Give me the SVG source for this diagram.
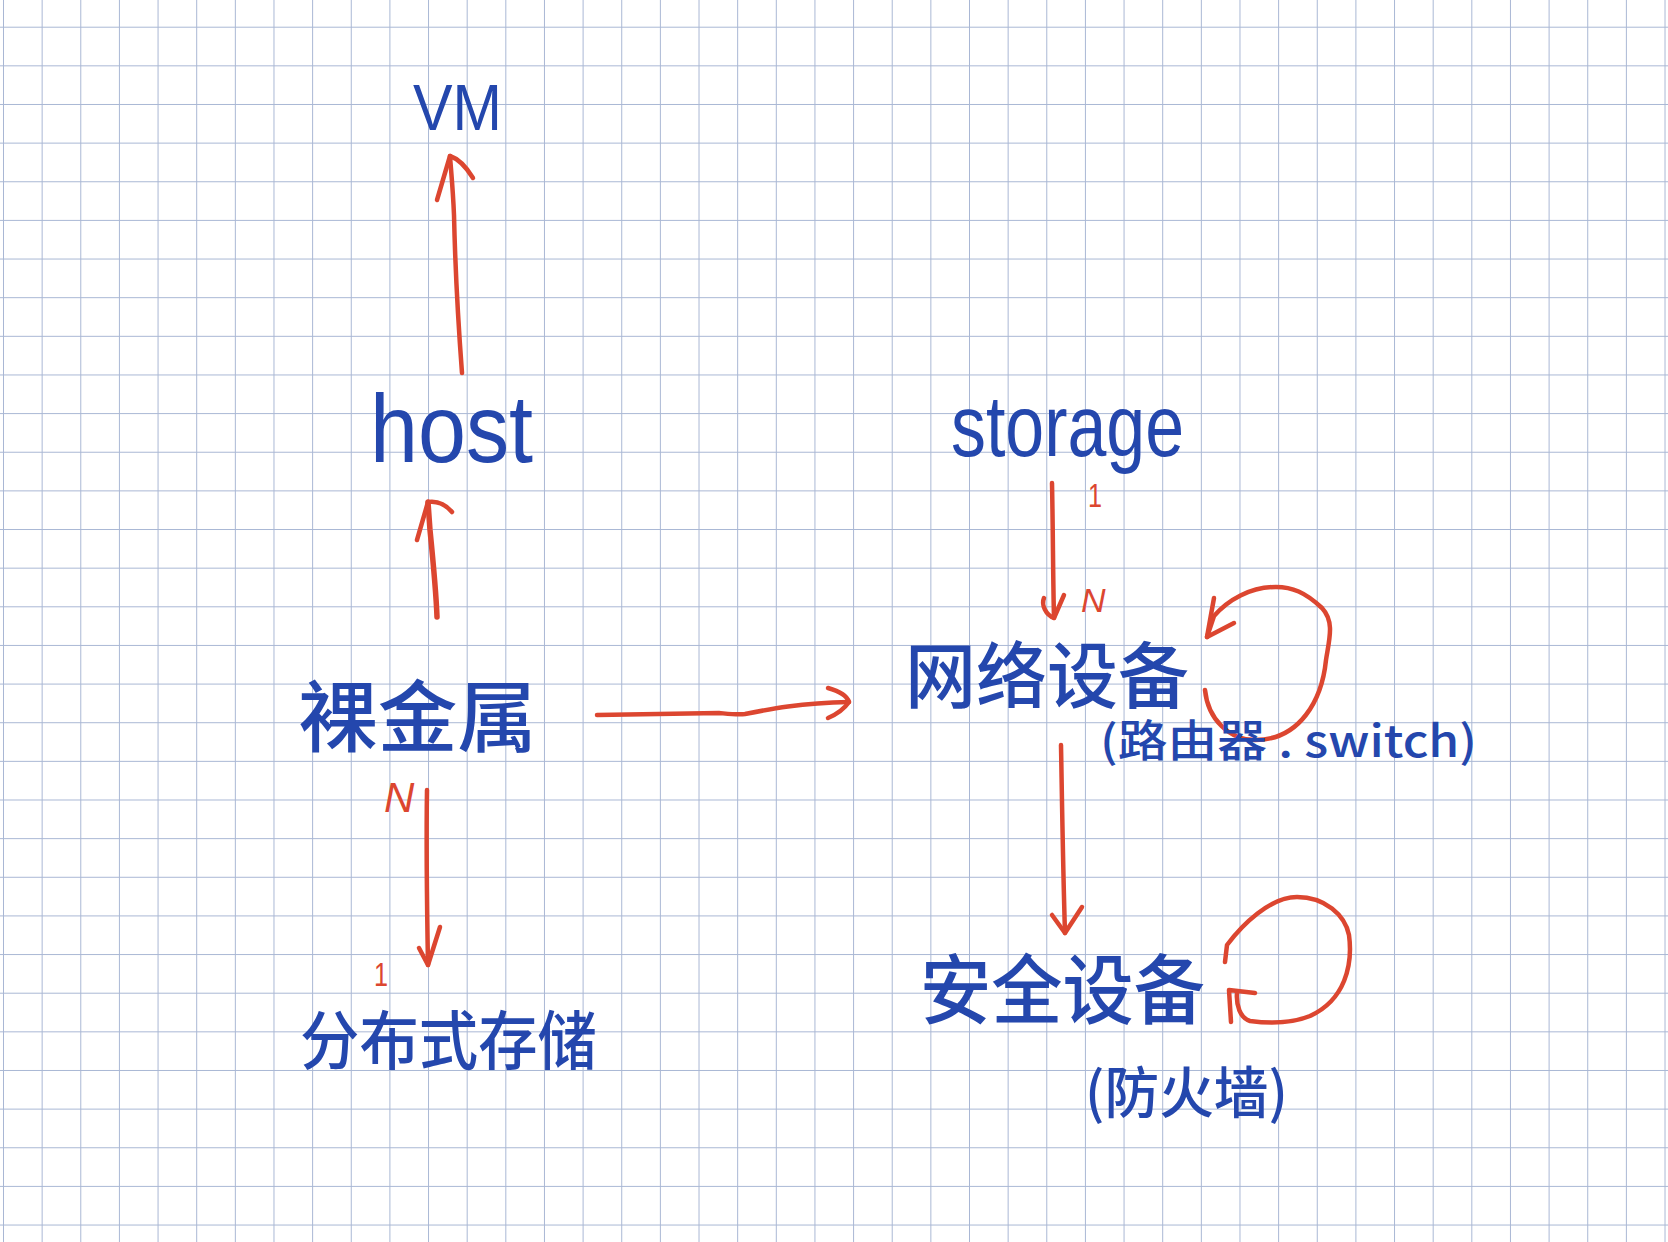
<svg xmlns="http://www.w3.org/2000/svg" width="1668" height="1242" viewBox="0 0 1668 1242">
<defs>
<pattern id="grid" patternUnits="userSpaceOnUse" x="3" y="26.7" width="38.64" height="38.64">
<path d="M0,0 H38.64 M0,0 V38.64" fill="none" stroke="#a9b7d4" stroke-width="2"/>
</pattern>
<style>
.lat{font-family:"Liberation Sans","DejaVu Sans",sans-serif;fill:#2447ad;font-weight:500}
.cjk{font-family:"Noto Sans CJK SC","Noto Sans",sans-serif;fill:#2447ad;font-weight:500;dominant-baseline:central}
.mark{font-family:"Liberation Sans","DejaVu Sans",sans-serif;fill:#dc4630}
.c{fill:none;stroke:#dc4630;stroke-width:4.5;stroke-linecap:round;stroke-linejoin:round}
</style>
</defs>
<rect width="1668" height="1242" fill="#ffffff"/>
<rect width="1668" height="1242" fill="url(#grid)"/>

<g id="connectors">
<!-- host -> VM -->
<path class="c" d="M462,373 C458,320 455,260 454,215 C453,190 451,170 450,156"/>
<path class="c" d="M437,200 L450,156 Q462,160 473,178"/>
<!-- 裸金属 -> host -->
<path class="c" style="stroke-width:5.5" d="M437,617 C436,590 433,560 430,530 L428,502"/>
<path class="c" d="M417,540 L428,502 Q442,500 452,512"/>
<!-- 裸金属 -> 网络设备 -->
<path class="c" d="M597,715 C650,714 700,713 719,713 C730,714 738,715 745,714 C770,709 800,703 849,702"/>
<path class="c" d="M828,688 Q846,693 849,702 Q842,712 828,718"/>
<!-- 裸金属 -> 分布式存储 -->
<path class="c" d="M427,790 C426,850 427,910 428,965"/>
<path class="c" d="M419,948 L428,965 L440,927"/>
<!-- storage -> 网络设备 -->
<path class="c" d="M1052,483 C1053,530 1053,580 1054,618"/>
<path class="c" d="M1044,598 C1041,605 1046,615 1054,618 L1064,595"/>
<!-- 网络设备 -> 安全设备 -->
<path class="c" d="M1061,745 C1062,800 1063,870 1065,933"/>
<path class="c" d="M1052,915 L1065,933 L1082,907"/>
<!-- 网络设备 self loop -->
<path class="c" d="M1205,690 C1208,720 1230,740 1255,740 C1300,740 1322,700 1326,660 C1329,640 1335,622 1322,608 C1305,592 1292,587 1276,587 C1250,587 1228,600 1214,616 L1207,637"/>
<path class="c" d="M1214,598 L1207,637 L1234,623"/>
<!-- 安全设备 self loop -->
<path class="c" d="M1225,962 L1227,945 C1242,925 1270,897 1297,897 C1325,897 1345,915 1349,935 C1353,965 1345,1000 1310,1016 C1290,1024 1265,1023 1250,1021 C1240,1018 1236,1005 1237,993"/>
<path class="c" d="M1231,1022 L1229,990 L1255,993"/>
<!-- multiplicity marks -->
<text class="mark" x="384" y="812" font-size="42" font-style="italic">N</text>
<text class="mark" x="374" y="986" font-size="34" textLength="14" lengthAdjust="spacingAndGlyphs">1</text>
<text class="mark" x="1081" y="612" font-size="34" font-style="italic">N</text>
<text class="mark" x="1088" y="507" font-size="34" textLength="14" lengthAdjust="spacingAndGlyphs">1</text>
</g>

<g id="node-vm"><text class="lat" x="413" y="130" font-size="64" textLength="89" lengthAdjust="spacingAndGlyphs">VM</text></g>
<g id="node-host"><text class="lat" x="370" y="462" font-size="96" textLength="163" lengthAdjust="spacingAndGlyphs">host</text></g>
<g id="node-storage"><text class="lat" x="951" y="456" font-size="88" textLength="233" lengthAdjust="spacingAndGlyphs">storage</text></g>
<g id="node-baremetal"><text class="cjk" x="298" y="712" font-size="78" textLength="239" lengthAdjust="spacingAndGlyphs">裸金属</text></g>
<g id="node-distributed-storage"><text class="cjk" x="300" y="1036" font-size="64" textLength="297" lengthAdjust="spacingAndGlyphs">分布式存储</text></g>
<g id="node-network-device">
<text class="cjk" x="905" y="670" font-size="72" textLength="284" lengthAdjust="spacingAndGlyphs">网络设备</text>
<text class="cjk" x="1100" y="738" font-size="44" textLength="377" lengthAdjust="spacingAndGlyphs">(路由器 . switch)</text>
</g>
<g id="node-security-device">
<text class="cjk" x="920" y="985" font-size="76" textLength="285" lengthAdjust="spacingAndGlyphs">安全设备</text>
<text class="cjk" x="1085" y="1088" font-size="56" textLength="203" lengthAdjust="spacingAndGlyphs">(防火墙)</text>
</g>
</svg>
